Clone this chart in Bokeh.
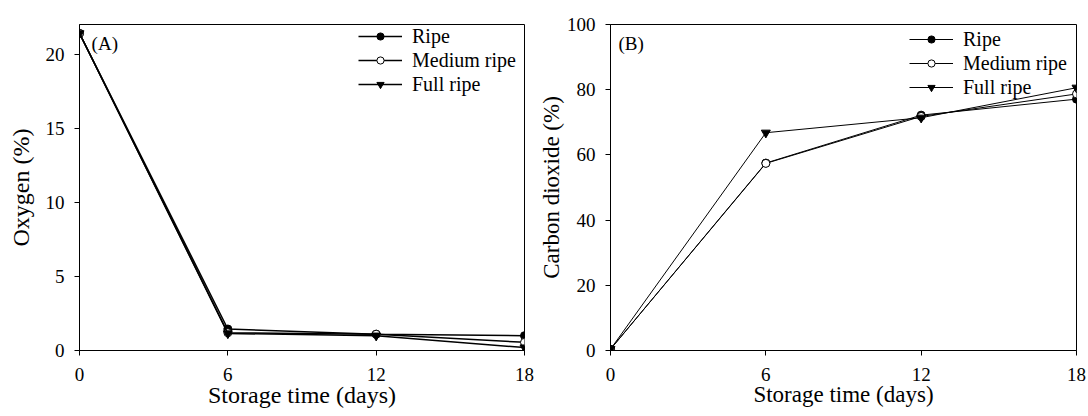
from bokeh.plotting import figure
from bokeh.models import Range1d, Label, Legend, LegendItem, FixedTicker
from bokeh.layouts import row
from bokeh.embed import file_html
from bokeh.resources import INLINE

# ---- data ----
days = [0, 6, 12, 18]
series_names = ["Ripe", "Medium ripe", "Full ripe"]
oxygen_ripe = [21.4, 1.45, 1.1, 1.0]
oxygen_medium = [21.4, 1.2, 1.1, 0.55]
oxygen_full = [21.4, 1.15, 1.0, 0.2]
co2_ripe = [0.4, 57.5, 72.2, 77.1]
co2_medium = [0.4, 57.4, 71.8, 78.7]
co2_full = [0.4, 66.8, 71.4, 80.6]
x_ticks = [0, 6, 12, 18]
oxygen_ticks = [0, 5, 10, 15, 20]
co2_ticks = [0, 20, 40, 60, 80, 100]

FONT = "Liberation Serif"
markers = [("circle", 8, "black"), ("circle", 8, "white"), ("inverted_triangle", 9, "black")]


def make_panel(width, height, bl, br, bt, bb, ymax, yticks, series, line_w,
               panel_label, plabel_pos, ylabel, ylabel_standoff, title_font,
               legend_loc):
    p = figure(width=width, height=height, output_backend="svg", toolbar_location=None,
               x_range=Range1d(0, 18), y_range=Range1d(0, ymax),
               min_border_left=bl, min_border_right=br, min_border_top=bt, min_border_bottom=bb)
    p.xgrid.grid_line_color = None
    p.ygrid.grid_line_color = None
    p.outline_line_color = "black"
    p.outline_line_alpha = 1
    p.outline_line_width = 1
    p.background_fill_color = "white"
    p.border_fill_color = "white"

    p.xaxis.ticker = FixedTicker(ticks=x_ticks)
    p.yaxis.ticker = FixedTicker(ticks=yticks)
    for ax in (p.xaxis, p.yaxis):
        ax.axis_line_color = "black"
        ax.major_tick_line_color = "black"
        ax.major_tick_in = 0
        ax.major_tick_out = 5
        ax.minor_tick_line_color = None
        ax.major_label_text_font = FONT
        ax.major_label_text_font_size = "19px"
        ax.major_label_text_color = "black"
        ax.major_label_standoff = 10
        ax.axis_label_text_font = FONT
        ax.axis_label_text_font_size = title_font
        ax.axis_label_text_font_style = "normal"
        ax.axis_label_text_color = "black"
    p.yaxis.axis_label = ylabel
    p.yaxis.axis_label_standoff = ylabel_standoff
    p.xaxis.axis_label = "Storage time (days)"
    p.xaxis.major_label_standoff = 12
    p.xaxis.axis_label_standoff = -2

    items = []
    for name, vals, (mk, sz, fill) in zip(series_names, series, markers):
        lr = p.line(days, vals, line_color="black", line_width=line_w)
        sr = p.scatter(days, vals, marker=mk, size=sz, fill_color=fill,
                       line_color="black", line_width=1)
        items.append(LegendItem(label=name, renderers=[lr, sr]))

    legend = Legend(items=items, location=legend_loc, glyph_width=44, glyph_height=18,
                    label_height=24, label_standoff=10, spacing=0, padding=0, margin=0,
                    border_line_alpha=0, background_fill_alpha=0,
                    label_text_font=FONT, label_text_font_size="20px",
                    label_text_color="black")
    p.add_layout(legend)

    p.add_layout(Label(x=plabel_pos[0], y=plabel_pos[1], text=panel_label,
                       text_font=FONT, text_font_size="19px", text_color="black",
                       text_align="left", text_baseline="middle"))
    return p


left = make_panel(534, 416, 79, 10, 21, 62, 22, oxygen_ticks,
                  [oxygen_ripe, oxygen_medium, oxygen_full], 1.5,
                  "(A)", (0.49, 20.75), "Oxygen (%)", 9, "24px",
                  (279, 254))
right = make_panel(554, 416, 76, 12, 24, 66, 100, co2_ticks,
                   [co2_ripe, co2_medium, co2_full], 1.0,
                   "(B)", (0.31, 94.3), "Carbon dioxide (%)", 0, "23px",
                   (299, 251))

layout = row(left, right)
open("out.html", "w").write(file_html(layout, INLINE))
